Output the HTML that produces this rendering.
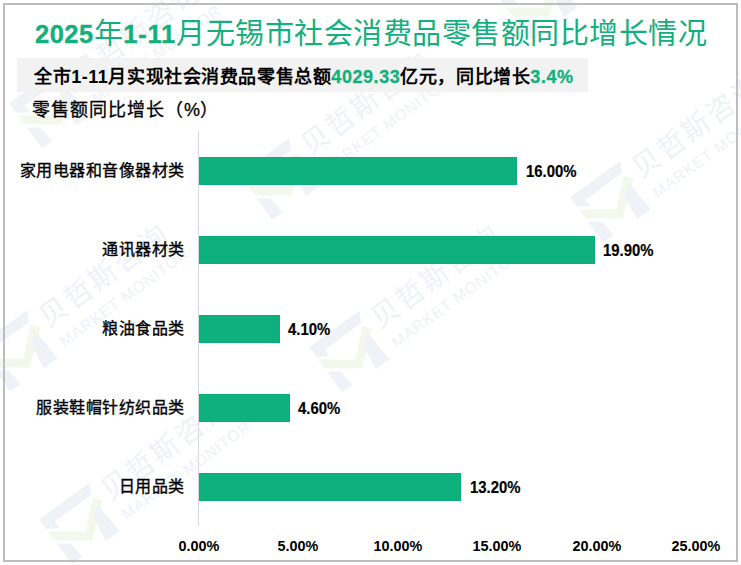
<!DOCTYPE html>
<html lang="zh-CN">
<head>
<meta charset="utf-8">
<style>
html,body{margin:0;padding:0;background:#fff;}
body{width:741px;height:565px;position:relative;overflow:hidden;font-family:"Liberation Sans",sans-serif;}
.frame{position:absolute;left:3px;top:3px;width:735px;height:559px;border:2px solid #BDBDBD;box-sizing:border-box;}
.t{position:absolute;white-space:nowrap;line-height:1;}
#title{left:35px;top:20px;font-size:29px;letter-spacing:0.5px;color:#13B07E;}
#title b{font-weight:bold;font-size:25.5px;position:relative;top:-1px;-webkit-text-stroke:0.4px #13B07E;}
#title b.n{letter-spacing:0.8px;}
#sub{position:absolute;left:17px;top:58px;width:571px;height:34px;background:#F2F2F2;}
#subt{left:34px;top:68px;font-size:18px;letter-spacing:0.57px;color:#000;font-weight:bold;}
#subt .g{color:#13B07E;-webkit-text-stroke:0.3px #13B07E;}
#ytitle{left:32px;top:101px;font-size:18px;letter-spacing:1px;-webkit-text-stroke:0.3px #000;color:#000;}
.axis{position:absolute;left:198px;top:131px;width:1px;height:395px;background:#D9D9D9;}
.bar{position:absolute;left:199px;height:28px;background:#0EB17D;border:1px solid #0AAC77;box-sizing:border-box;}
.cat{position:absolute;right:556.5px;font-size:16px;letter-spacing:0.45px;-webkit-text-stroke:0.35px #000;color:#000;line-height:28px;height:28px;white-space:nowrap;}
.val{position:absolute;margin-top:1px;-webkit-text-stroke:0.2px #000;font-size:16px;font-weight:bold;color:#000;line-height:28px;height:28px;white-space:nowrap;transform:scaleX(0.93);transform-origin:0 0;}
.xl{position:absolute;top:538px;width:80px;margin-left:-40px;text-align:center;font-size:14.4px;font-weight:bold;color:#000;line-height:16px;}
.wm{position:absolute;left:0;top:0;font-family:"Liberation Sans",sans-serif;}
</style>
</head>
<body>
<svg class="wm" width="741" height="565" viewBox="0 0 741 565">
<defs>
<g id="w">
<polygon fill="#EFF3F8" points="-82,-16 -20,-16 -26,-5 -71,-5 -71,3 -82,-4"/>
<polygon fill="#EFF3F8" points="-82,14 -71,22 -69,40 -82,40"/>
<polygon fill="#F4F8EC" points="-82,-1 -52,21 -26,-2 -20,6 -52,32 -82,10"/>
<polygon fill="#EFF3F8" points="-37,14 -26,6 -24,41 -41,41"/>
<text x="-14" y="11" font-size="28" letter-spacing="2.5" fill="#EEF2F7" style="-webkit-text-stroke:1.6px #EEF2F7">贝哲斯咨询</text>
<text x="-12" y="36" font-size="15.5" letter-spacing="1" fill="#EEF2F7" style="-webkit-text-stroke:0.5px #EEF2F7">MARKET MONITOR</text>
</g>
</defs>
<use href="#w" transform="translate(646,162) rotate(-36)"/>
<use href="#w" transform="translate(315,139) rotate(-36)"/>
<use href="#w" transform="translate(85,68) rotate(-36)"/>
<use href="#w" transform="translate(53,311) rotate(-36)"/>
<use href="#w" transform="translate(385,312) rotate(-36)"/>
<use href="#w" transform="translate(115,484) rotate(-36)"/>
<use href="#w" transform="translate(573,-40) rotate(-36)"/>
</svg>
<div class="frame"></div>
<div id="title" class="t"><b>2025</b>年<b class="n">1-11</b>月无锡市社会消费品零售额同比增长情况</div>
<div id="sub"></div>
<div id="subt" class="t">全市1-11月实现社会消费品零售总额<span class="g">4029.33</span>亿元，同比增长<span class="g">3.4%</span></div>
<div id="ytitle" class="t">零售额同比增长（<span style="letter-spacing:0">%</span>）</div>
<div class="axis"></div>

<div class="cat" style="top:157px">家用电器和音像器材类</div>
<div class="bar" style="top:157px;width:318px"></div>
<div class="val" style="top:157px;left:526px">16.00%</div>

<div class="cat" style="top:236px">通讯器材类</div>
<div class="bar" style="top:236px;width:396px"></div>
<div class="val" style="top:236px;left:603px">19.90%</div>

<div class="cat" style="top:315px">粮油食品类</div>
<div class="bar" style="top:315px;width:81px"></div>
<div class="val" style="top:315px;left:288px">4.10%</div>

<div class="cat" style="top:394px">服装鞋帽针纺织品类</div>
<div class="bar" style="top:394px;width:91px"></div>
<div class="val" style="top:394px;left:298px">4.60%</div>

<div class="cat" style="top:473px">日用品类</div>
<div class="bar" style="top:473px;width:262px"></div>
<div class="val" style="top:473px;left:470px">13.20%</div>

<div class="xl" style="left:199px">0.00%</div>
<div class="xl" style="left:298px">5.00%</div>
<div class="xl" style="left:398px">10.00%</div>
<div class="xl" style="left:497px">15.00%</div>
<div class="xl" style="left:597px">20.00%</div>
<div class="xl" style="left:696px">25.00%</div>
</body>
</html>
